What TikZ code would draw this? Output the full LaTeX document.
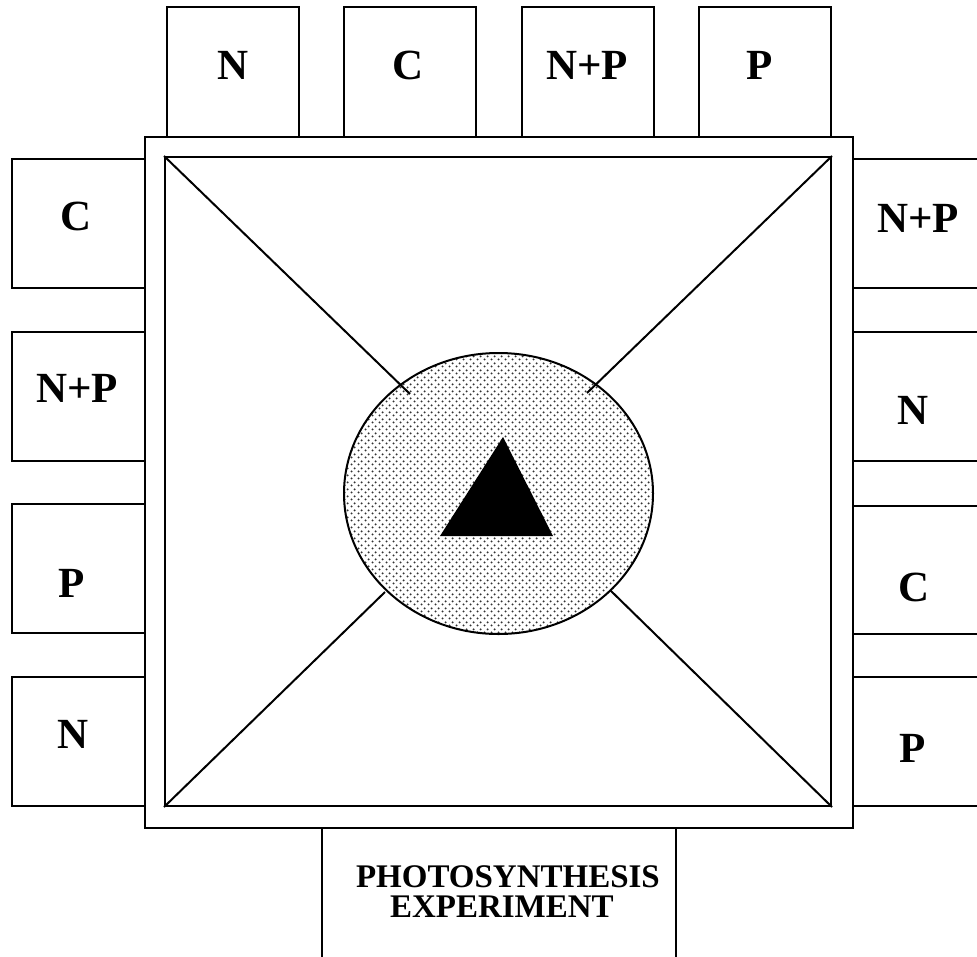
\documentclass[tikz,border=0pt]{standalone}
\usepackage{fontspec}
\setmainfont{Liberation Serif}
\usetikzlibrary{patterns.meta,shapes.geometric}
\tikzdeclarepattern{
  name=stipple,
  type=uncolored,
  bounding box={(0pt,0pt) and (7pt,7pt)},
  tile size={(7pt,7pt)},
  code={
    \fill (1.75pt,1.75pt) circle (1.2pt);
    \fill (5.25pt,5.25pt) circle (1.2pt);
  }
}
\begin{document}
\begin{tikzpicture}[x=1pt,y=-1pt,line width=2pt,
  box/.style={draw,line width=2pt,fill=white,inner sep=0pt},
  topbox/.style={box,minimum width=132pt,minimum height=130pt},
  sidebox/.style={box,minimum width=133pt,minimum height=129pt},
  lbl/.style={inner sep=0pt,font=\bfseries\fontsize{43}{48}\selectfont},
  title/.style={inner sep=0pt,font=\bfseries\fontsize{33}{36}\selectfont}]
\useasboundingbox (0,0) rectangle (977,956);
\clip (0,0) rectangle (977,956);
% top boxes
\node[topbox] (tb1) at (233,72) {};
\node[topbox] (tb2) at (410,72) {};
\node[topbox] (tb3) at (587.5,72) {};
\node[topbox] (tb4) at (764.5,72) {};
% left boxes
\node[sidebox] (lb1) at (78.5,223.5) {};
\node[sidebox] (lb2) at (78.5,396.5) {};
\node[sidebox] (lb3) at (78.5,568.5) {};
\node[sidebox] (lb4) at (78.5,741.5) {};
% right boxes
\node[box,minimum width=150pt,minimum height=129pt] (rb1) at (928,223.5) {};
\node[box,minimum width=150pt,minimum height=129pt] (rb2) at (928,396.5) {};
\node[box,minimum width=150pt,minimum height=128pt] (rb3) at (928,570) {};
\node[box,minimum width=150pt,minimum height=129pt] (rb4) at (928,741.5) {};
% bottom box
\node[box,minimum width=354pt,minimum height=160pt] (bb) at (499,908) {};
% main squares
\node[box,minimum width=708pt,minimum height=691pt] (outer) at (499,482.5) {};
\node[draw,line width=2pt,inner sep=0pt,minimum width=666pt,minimum height=649pt] (inner) at (498,481.5) {};
% central disc
\node[ellipse,draw,line width=2pt,inner sep=0pt,minimum width=309pt,minimum height=281pt,
      pattern={stipple},pattern color=black!80] (disc) at (498.5,493.5) {};
% diagonals
\coordinate (dTL) at (410,394);
\coordinate (dTR) at (587,393);
\coordinate (dBL) at (385,592);
\coordinate (dBR) at (610,590);
\draw (inner.north west) -- (dTL);
\draw (inner.north east) -- (dTR);
\draw (inner.south west) -- (dBL);
\draw (inner.south east) -- (dBR);
% triangle
\coordinate (ta) at (503,437);
\coordinate (tl) at (440,536);
\coordinate (tr) at (553,536);
\fill[black] (ta) -- (tl) -- (tr) -- cycle;
% labels
\node[lbl] (t1) at (233,65) {N};
\node[lbl] (t2) at (408,65) {C};
\node[lbl] (t3) at (587,65) {N+P};
\node[lbl] (t4) at (760,65) {P};
\node[lbl] (l1) at (76,216) {C};
\node[lbl] (l2) at (77,388) {N+P};
\node[lbl] (l3) at (72,583) {P};
\node[lbl] (l4) at (73,734) {N};
\node[lbl] (r1) at (918,218) {N+P};
\node[lbl] (r2) at (913,410) {N};
\node[lbl] (r3) at (914,587) {C};
\node[lbl] (r4) at (913,748) {P};
\node[title,anchor=base west] (ttl1) at (355,887) {PHOTOSYNTHESIS};
\node[title,anchor=base west] (ttl2) at (389,917) {EXPERIMENT};
\end{tikzpicture}
\end{document}
